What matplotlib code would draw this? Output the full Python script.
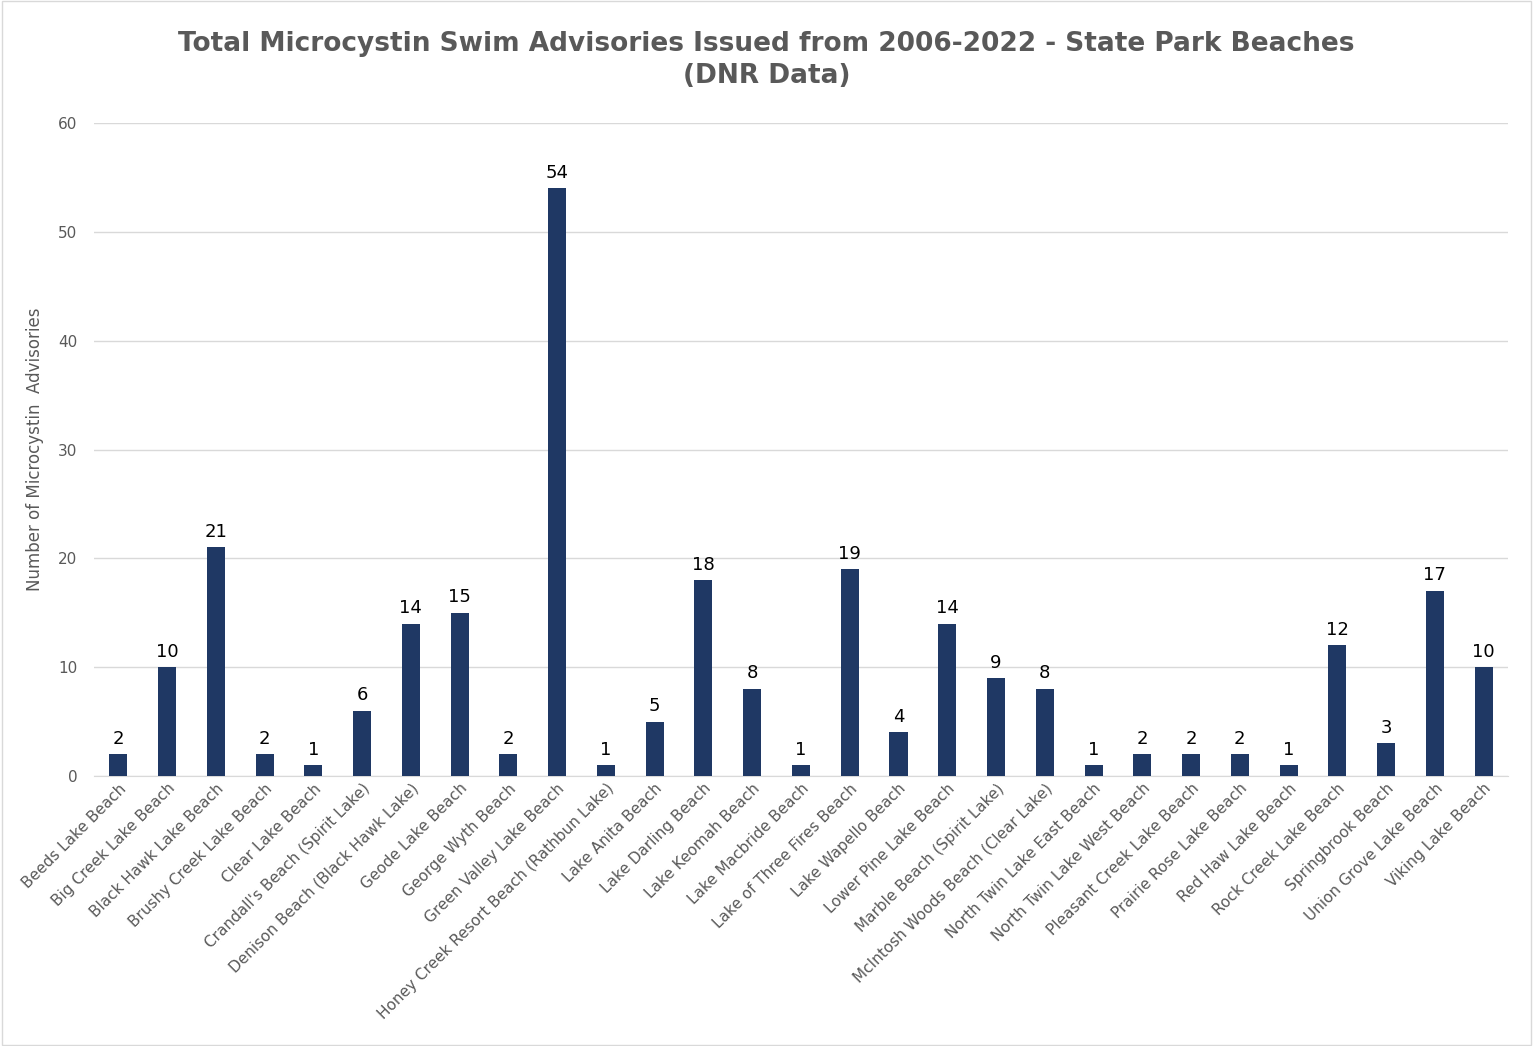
import matplotlib
matplotlib.use("Agg")
import matplotlib.pyplot as plt
from matplotlib.patches import Rectangle

categories = ["Beeds Lake Beach", "Big Creek Lake Beach", "Black Hawk Lake Beach",
    "Brushy Creek Lake Beach", "Clear Lake Beach", "Crandall's Beach (Spirit Lake)",
    "Denison Beach (Black Hawk Lake)", "Geode Lake Beach", "George Wyth Beach",
    "Green Valley Lake Beach", "Honey Creek Resort Beach (Rathbun Lake)", "Lake Anita Beach",
    "Lake Darling Beach", "Lake Keomah Beach", "Lake Macbride Beach",
    "Lake of Three Fires Beach", "Lake Wapello Beach", "Lower Pine Lake Beach",
    "Marble Beach (Spirit Lake)", "McIntosh Woods Beach (Clear Lake)",
    "North Twin Lake East Beach", "North Twin Lake West Beach", "Pleasant Creek Lake Beach",
    "Prairie Rose Lake Beach", "Red Haw Lake Beach", "Rock Creek Lake Beach",
    "Springbrook Beach", "Union Grove Lake Beach", "Viking Lake Beach"]
values = [2, 10, 21, 2, 1, 6, 14, 15, 2, 54, 1, 5, 18, 8, 1, 19, 4, 14, 9, 8,
          1, 2, 2, 2, 1, 12, 3, 17, 10]
yticks = [0, 10, 20, 30, 40, 50, 60]

fig = plt.figure(figsize=(15.33, 10.46), dpi=100)
ax = fig.add_axes([0.0613, 0.2581, 0.9224, 0.6243])
x = list(range(len(categories)))
bars = ax.bar(x, values, width=0.37, color="#1F3864", zorder=3)
for xi, v in zip(x, values):
    ax.text(xi, v + 0.6, str(v), ha="center", va="bottom", fontsize=13, color="black", zorder=4)
ax.set_ylim(0, 60)
ax.set_xlim(-0.5, len(categories) - 0.5)
ax.set_yticks(yticks)
ax.yaxis.grid(True, color="#D9D9D9", linewidth=1, zorder=0)
for s in ["top", "right", "left"]:
    ax.spines[s].set_visible(False)
ax.spines["bottom"].set_color("#D9D9D9")
ax.tick_params(axis="y", length=0, labelsize=11, labelcolor="#595959", pad=12)
ax.tick_params(axis="x", length=0, labelsize=11, labelcolor="#595959")
ax.set_xticks(x)
ax.set_xticklabels(categories, rotation=45, ha="right", rotation_mode="anchor")
ax.set_ylabel("Number of Microcystin  Advisories", fontsize=12, color="#595959", labelpad=10)
fig.suptitle("Total Microcystin Swim Advisories Issued from 2006-2022 - State Park Beaches\n(DNR Data)",
             y=0.97, fontsize=19, fontweight="bold", color="#595959", linespacing=1.3)
fig.add_artist(Rectangle((0.001, 0.001), 0.998, 0.998, transform=fig.transFigure,
                         fill=False, edgecolor="#D9D9D9", linewidth=1))
fig.savefig("out.png", dpi=100)
